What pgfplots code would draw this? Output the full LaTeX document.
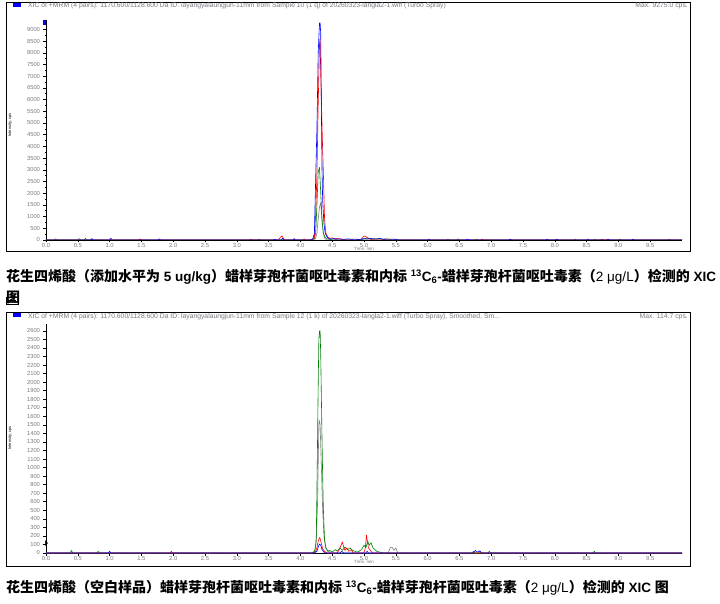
\documentclass[border=0pt]{standalone}
\usepackage{fontspec}
\setmainfont{Liberation Sans}
\newfontfamily\cjk{Noto Sans CJK SC}
\usepackage{pgfplots}
\pgfplotsset{compat=1.18}

\definecolor{xblue}{RGB}{0,0,255}
\definecolor{xred}{RGB}{255,0,0}
\definecolor{xgreen}{RGB}{0,128,0}
\definecolor{xgray}{RGB}{128,128,128}
\definecolor{lbl}{RGB}{120,120,130}

\newcommand\capcjk{\cjk\bfseries\fontsize{14}{16}\selectfont}
\newcommand\lb[1]{{\rmfamily\bfseries\fontsize{13.5}{16}\selectfont #1}}
\newcommand\lr[1]{{\rmfamily\mdseries\fontsize{13.5}{16}\selectfont #1}}
\newcommand\hdr{\fontsize{6.8}{7}\selectfont}

\pgfplotsset{
  xic/.style={
    scale only axis, width=636pt,
    xmin=0, xmax=10, ymin=0, enlargelimits=false,
    axis x line*=bottom, axis y line*=left,
    axis line style={line width=0.9pt, black, -},
    xtick={0,0.5,...,9.5}, minor x tick num=4,
    tick align=outside, major tick length=2.5pt, minor tick length=1.2pt,
    tick style={black, line width=0.5pt},
    ticklabel style={font=\fontsize{5.8}{6}\selectfont, text=lbl},
    xticklabel style={/pgf/number format/fixed, /pgf/number format/fixed zerofill,
      /pgf/number format/precision=1, yshift=2.8pt},
    yticklabel style={/pgf/number format/fixed, /pgf/number format/set thousands separator={}},
    /pgf/number format/assume math mode=true,
    every axis plot/.append style={line width=0.6pt, line join=round, mark=none},
  }
}

\begin{document}
\begin{tikzpicture}
\path[use as bounding box] (0pt,0pt) rectangle (720pt,603pt);

% ---------- panel 1 : spiked sample ----------
\draw[line width=1pt] (6pt,600pt) rectangle (690pt,351pt);
\fill[xblue] (13pt,600pt) rectangle (21pt,596pt);
\node[anchor=west, inner sep=0, text=lbl] at (28pt,597pt) {\hdr XIC of +MRM (4 pairs): 1170.600/1128.600 Da ID: layangyalaungjun-11mm from Sample 10 (1 q) of 20260323-langla2-1.wiff (Turbo Spray)};
\node[anchor=east, inner sep=0, text=lbl] at (688pt,597pt) {\hdr Max. 9275.0 cps.};
\node[rotate=90, inner sep=0] at (10pt,478pt) {\fontsize{4}{5}\selectfont Intensity, cps};
\node[inner sep=0, text=lbl] at (364pt,353.8pt) {\fontsize{4.5}{5}\selectfont Time, min};
\fill[xblue] (43pt,583pt) rectangle (46pt,578pt);

\begin{axis}[xic, at={(46pt,363pt)}, anchor=south west, height=220pt,
  ymax=9400, ytick={0,500,...,9000}, minor y tick num=1]
\addplot[xgray] coordinates {(0,0)(4.20,0)(4.24,60)(4.26,300)(4.28,900)(4.30,1400)(4.32,1600)(4.34,800)(4.36,300)(4.38,80)(4.41,0)(10,0)};
\addplot[xgreen] coordinates {(0,0)(0.13,0)(0.15,50)(0.17,0)(0.50,0)(0.52,60)(0.54,0)(0.60,0)(0.62,70)(0.64,0)(3.33,0)(3.35,40)(3.37,0)(4.18,0)(4.22,60)(4.24,300)(4.26,1500)(4.28,2900)(4.30,3100)(4.32,2000)(4.34,900)(4.36,300)(4.39,100)(4.42,50)(4.46,30)(4.50,0)(4.95,0)(5.00,50)(5.05,80)(5.10,40)(5.15,60)(5.20,40)(5.25,70)(5.30,30)(5.35,50)(5.40,30)(5.45,0)(6.30,0)(6.32,40)(6.34,0)(6.45,0)(6.48,50)(6.51,0)(6.75,0)(6.77,40)(6.79,0)(8.30,0)(8.32,40)(8.34,0)(8.61,0)(8.63,40)(8.65,0)(9.01,0)(9.03,40)(9.05,0)(9.78,0)(9.80,40)(9.82,0)(10,0)};
\addplot[xred] coordinates {(0,0)(1.46,0)(1.48,50)(1.50,0)(3.20,0)(3.22,40)(3.24,0)(3.66,0)(3.68,100)(3.71,170)(3.73,90)(3.75,0)(4.04,0)(4.06,50)(4.08,0)(4.18,0)(4.20,40)(4.22,100)(4.24,1100)(4.26,2800)(4.28,5800)(4.30,8400)(4.31,8600)(4.32,7000)(4.33,6000)(4.35,3800)(4.36,3000)(4.38,900)(4.40,300)(4.43,120)(4.46,70)(4.50,90)(4.54,50)(4.58,80)(4.62,40)(4.66,30)(4.70,0)(4.95,0)(4.98,120)(5.00,170)(5.03,140)(5.06,90)(5.10,40)(5.14,0)(5.30,0)(5.32,40)(5.34,0)(6.84,0)(6.86,40)(6.88,0)(8.72,0)(8.74,40)(8.76,0)(10,0)};
\addplot[xblue] coordinates {(0,0)(0.70,0)(0.72,60)(0.74,0)(1.00,0)(1.02,80)(1.04,0)(1.76,0)(1.78,50)(1.80,0)(3.58,0)(3.60,40)(3.62,0)(3.70,0)(3.72,80)(3.74,0)(3.88,0)(3.90,60)(3.92,0)(4.15,0)(4.18,30)(4.20,80)(4.22,300)(4.24,2600)(4.26,4800)(4.28,8000)(4.30,9275)(4.31,9275)(4.32,8800)(4.33,5500)(4.34,3000)(4.35,1700)(4.37,700)(4.39,300)(4.42,120)(4.45,60)(4.48,40)(4.52,60)(4.56,30)(4.60,50)(4.65,40)(4.70,30)(4.75,50)(4.80,30)(4.86,40)(4.92,20)(5.00,60)(5.05,40)(5.10,70)(5.15,40)(5.20,50)(5.25,60)(5.30,30)(5.40,40)(5.50,30)(5.55,0)(6.00,0)(6.02,40)(6.04,0)(6.60,0)(6.63,40)(6.66,0)(7.28,0)(7.30,40)(7.32,0)(7.86,0)(7.88,40)(7.90,0)(8.01,0)(8.03,40)(8.05,0)(8.50,0)(8.52,40)(8.54,0)(8.82,0)(8.84,40)(8.86,0)(9.21,0)(9.23,40)(9.25,0)(10,0)};
\end{axis}

% ---------- caption 1 ----------
\node[anchor=west, inner sep=0] at (6pt,326pt) {\capcjk 花生四烯酸（添加水平为\lb{ 5 ug/kg}）蜡样芽孢杆菌呕吐毒素和内标\lb{ \textsuperscript{13}C\textsubscript{6}-}蜡样芽孢杆菌呕吐毒素（\lr{2 μg/L}）检测的\lb{ XIC}};
\node[anchor=west, inner sep=0] at (6pt,306pt) {\capcjk 图};

% ---------- panel 2 : blank sample ----------
\draw[line width=0.8pt] (6pt,306pt) rectangle (18pt,299pt);
\draw[line width=0.8pt] (8pt,303pt) -- (16pt,303pt);
\draw[line width=1pt] (6pt,290pt) rectangle (690pt,37pt);
\fill[xblue] (13pt,290pt) rectangle (21pt,286pt);
\node[anchor=west, inner sep=0, text=lbl] at (28pt,286pt) {\hdr XIC of +MRM (4 pairs): 1170.600/1128.600 Da ID: layangyalaungjun-11mm from Sample 12 (1 k) of 20260323-langla2-1.wiff (Turbo Spray), Smoothed, Sm...};
\node[anchor=east, inner sep=0, text=lbl] at (688pt,286pt) {\hdr Max. 114.7 cps.};
\node[rotate=90, inner sep=0] at (10pt,165pt) {\fontsize{4}{5}\selectfont Intensity, cps};
\node[inner sep=0, text=lbl] at (364pt,40.5pt) {\fontsize{4.5}{5}\selectfont Time, min};
\fill[xblue] (45pt,63pt) -- (48pt,60pt) -- (45pt,57pt) -- cycle;

\begin{axis}[xic, at={(46pt,50pt)}, anchor=south west, height=229pt,
  ymax=2680, ytick={0,100,...,2600}]
\addplot[xgray] coordinates {(0,0)(4.20,0)(4.23,30)(4.25,150)(4.27,600)(4.29,1500)(4.30,1550)(4.31,1500)(4.33,1000)(4.35,500)(4.37,200)(4.40,60)(4.44,20)(4.48,0)(5.38,0)(5.41,60)(5.44,70)(5.47,30)(5.50,60)(5.53,0)(6.80,0)(6.82,20)(6.84,0)(10,0)};
\addplot[xgreen] coordinates {(0,0)(0.38,0)(0.40,30)(0.42,0)(0.80,0)(0.82,20)(0.84,0)(4.18,0)(4.22,20)(4.24,80)(4.25,200)(4.26,730)(4.28,1970)(4.29,2500)(4.30,2600)(4.31,2600)(4.32,2300)(4.34,1330)(4.35,900)(4.36,540)(4.38,150)(4.40,60)(4.43,20)(4.46,30)(4.50,10)(4.55,40)(4.58,20)(4.62,60)(4.66,30)(4.70,70)(4.74,40)(4.78,60)(4.82,30)(4.86,20)(4.90,10)(4.96,40)(5.00,90)(5.03,60)(5.06,140)(5.08,90)(5.11,120)(5.14,60)(5.17,40)(5.20,20)(5.25,10)(5.30,0)(6.70,0)(6.72,20)(6.74,0)(6.95,0)(6.97,20)(6.99,0)(8.60,0)(8.62,20)(8.64,0)(10,0)};
\addplot[xred] coordinates {(0,0)(1.95,0)(1.97,20)(1.99,0)(4.20,0)(4.24,20)(4.26,60)(4.28,140)(4.30,180)(4.31,170)(4.33,110)(4.35,50)(4.38,20)(4.42,0)(4.58,0)(4.61,40)(4.64,90)(4.66,130)(4.68,70)(4.70,30)(4.73,60)(4.76,20)(4.80,40)(4.83,0)(5.00,0)(5.02,60)(5.04,210)(5.05,150)(5.07,60)(5.10,30)(5.13,0)(10,0)};
\addplot[xblue] coordinates {(0,0)(0.98,0)(1.00,20)(1.02,0)(4.22,0)(4.26,20)(4.28,70)(4.30,105)(4.32,90)(4.34,40)(4.37,10)(4.40,0)(4.62,0)(4.65,20)(4.68,0)(5.03,0)(5.05,20)(5.07,0)(6.72,0)(6.75,30)(6.78,10)(6.82,25)(6.85,0)(10,0)};
\end{axis}

% ---------- caption 2 ----------
\node[anchor=west, inner sep=0] at (6pt,15pt) {\capcjk 花生四烯酸（空白样品）蜡样芽孢杆菌呕吐毒素和内标\lb{ \textsuperscript{13}C\textsubscript{6}-}蜡样芽孢杆菌呕吐毒素（\lr{2 μg/L}）检测的\lb{ XIC }图};
\end{tikzpicture}
\end{document}
